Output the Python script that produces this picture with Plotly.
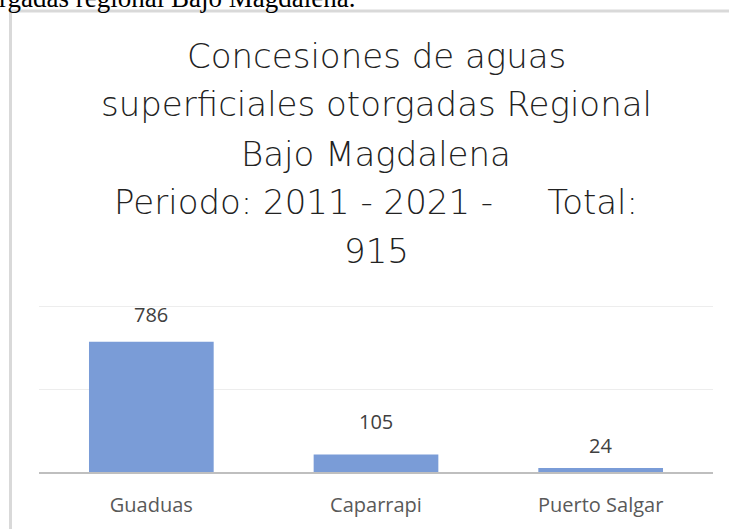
import plotly.graph_objects as go

# datos de la grafica
municipios = ["Guaduas", "Caparrapi", "Puerto Salgar"]
concesiones = [786, 105, 24]
titulo_lineas = [
    "Concesiones de aguas",
    "superficiales otorgadas Regional",
    "Bajo Magdalena",
    "Periodo: 2011 - 2021 -\u00a0\u00a0\u00a0\u00a0 Total:",
    "915",
]
texto_superior = "rgadas regional Bajo Magdalena."

W, H = 729, 529
# area de trazado en pixeles (eje y de 0 a 1020, 1000 cae en y=306)
L, R, T, B = 39, 713, 303, 472

# separacion (px) de cada etiqueta sobre su barra, como en el original
desplaz_etiquetas = [27, 33, 23]


def px_x(px):
    return (px - L) / (R - L)


def px_y(py):
    return (B - py) / (B - T)


fig = go.Figure()
fig.add_trace(go.Bar(
    x=municipios,
    y=concesiones,
    marker=dict(color="#7A9CD7", line=dict(width=0)),
    hoverinfo="skip",
))

# etiquetas de datos
for m, v, d in zip(municipios, concesiones, desplaz_etiquetas):
    fig.add_annotation(
        x=m, y=v, text=str(v), showarrow=False,
        yanchor="middle", yshift=d,
        font=dict(family="Open Sans", size=20, color="#404040"),
    )

# titulo, una anotacion por linea
baselines = [67, 115, 165, 213, 262]
for linea, bl in zip(titulo_lineas, baselines):
    fig.add_annotation(
        xref="paper", yref="paper", x=0.5, y=px_y(bl - 11),
        text=linea, showarrow=False, xanchor="center", yanchor="middle",
        font=dict(family="DejaVu Sans", size=34, color="#222222", weight=200),
    )

# texto del documento cortado arriba
fig.add_annotation(
    xref="paper", yref="paper", x=px_x(-3), y=px_y(-2),
    text=texto_superior, showarrow=False, xanchor="left", yanchor="middle",
    font=dict(family="Liberation Serif", size=27, color="#000000"),
)

# marco del grafico
fig.add_shape(
    type="rect", xref="paper", yref="paper",
    x0=px_x(10.5), x1=px_x(760), y0=px_y(560), y1=px_y(11),
    line=dict(color="#D9D9D9", width=3), fillcolor="rgba(0,0,0,0)",
    layer="below",
)

fig.update_layout(
    width=W, height=H,
    margin=dict(l=L, r=W - R, t=T, b=H - B, autoexpand=False),
    paper_bgcolor="white", plot_bgcolor="white",
    showlegend=False,
    bargap=0.445,
    font=dict(family="Open Sans"),
)
fig.update_xaxes(
    showline=True, linecolor="#BFBFBF", linewidth=2, automargin=False,
    showgrid=False, ticks="", ticklabelstandoff=14,
    tickfont=dict(family="Open Sans", size=20, color="#595959"),
)
fig.update_yaxes(
    range=[0, 1020], tickvals=[0, 500, 1000], showticklabels=False,
    showgrid=True, gridcolor="#EDEDED", gridwidth=1,
    zeroline=False, showline=False, automargin=False,
)

# sin margen del body para que la figura empiece en (0, 0)
fig.write_html(
    "out.html",
    config={"displayModeBar": False},
    post_script="document.body.style.margin='0';",
)
